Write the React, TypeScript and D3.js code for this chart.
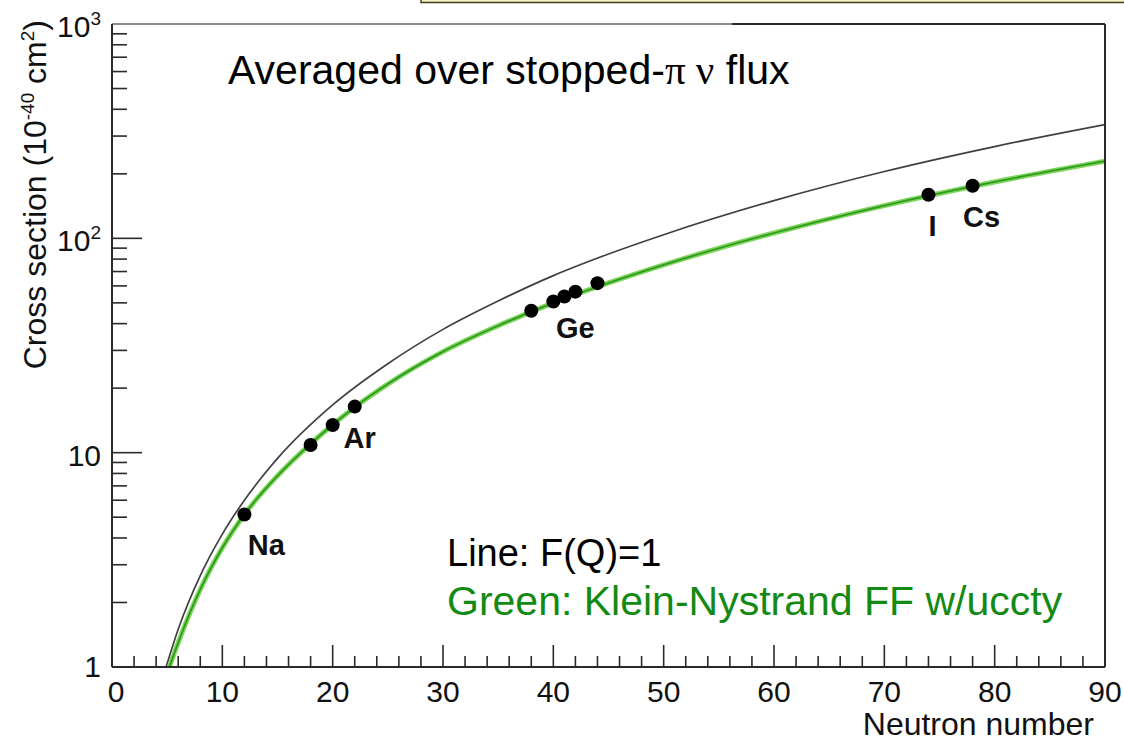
import React, { useEffect, useRef } from 'react';
import * as d3 from 'd3';

// F(Q)=1 curve
const lineN = [4.9, 6, 8, 10, 12, 15, 20, 25, 30, 35, 40, 45, 50, 60, 70, 80, 90];
const lineXS = [1.0, 1.5, 2.67, 4.17, 6.0, 9.4, 16.7, 26, 37.6, 51, 67, 84.5, 104, 150, 205, 268, 339];

// Klein-Nystrand form factor curve
const ffN = [5.2, 6, 8, 10, 12, 15, 18, 20, 22, 25, 30, 35, 40, 45, 50, 55, 60, 70, 80, 90];
const ffXS = [1.0, 1.3, 2.3, 3.6, 5.15, 7.8, 11.0, 13.5, 16.3, 20.9, 29.6, 39.1, 50, 61.9, 75.2, 89.9, 105.9, 142.2, 183.3, 229];

// isotopes
const isoN = [12, 18, 20, 22, 38, 40, 41, 42, 44, 74, 78];
const isoXS = [5.15, 10.85, 13.45, 16.4, 45.9, 50.7, 53.5, 56.4, 61.8, 159.6, 175.9];

// element labels, hung under one isotope each
const elements = ['Na', 'Ar', 'Ge', 'I', 'Cs'];
const elementN = [12, 22, 41, 74, 78];
const elementXS = [5.15, 16.4, 53.5, 159.6, 175.9];
const elementDx = [22, 5, 11, 4, 9];

const xTicks = [0, 10, 20, 30, 40, 50, 60, 70, 80, 90];
const yDecades = [1, 10, 100, 1000];
const yTickBase = ['1', '10', '10', '10'];
const yTickExp = ['', '', '2', '3'];

const FONT = '"Liberation Sans", Arial, Helvetica, sans-serif';
const SERIF = '"Liberation Serif", "Times New Roman", serif';

export default function App() {
  const svgRef = useRef<SVGSVGElement | null>(null);

  useEffect(() => {
    const width = 1124;
    const height = 741;
    const margin = { top: 24, right: 19, bottom: 74, left: 112 };
    const innerW = width - margin.left - margin.right;
    const innerH = height - margin.top - margin.bottom;

    const svg = d3.select(svgRef.current).attr('width', width).attr('height', height);
    svg.selectAll('*').remove();
    svg.append('rect').attr('width', width).attr('height', height).attr('fill', '#fff');

    // box cut off at the top of the slide
    svg.append('rect').attr('x', 421).attr('y', -10).attr('width', 720).attr('height', 12.5)
      .attr('fill', '#f4f1c4').attr('stroke', '#3f3f1c').attr('stroke-width', 1.5);

    const g = svg.append('g').attr('transform', `translate(${margin.left},${margin.top})`);

    const x = d3.scaleLinear().domain([0, 90]).range([0, innerW]);
    const y = d3.scaleLog().domain([1, 1000]).range([innerH, 0]);

    const defs = svg.append('defs');
    defs.append('clipPath').attr('id', 'plot-clip').append('rect')
      .attr('width', innerW).attr('height', innerH);

    const curves = g.append('g').attr('clip-path', 'url(#plot-clip)');
    const lineGen = d3.line<number>().x((d, i) => x(lineN[i])).y(d => y(d)).curve(d3.curveMonotoneX);
    const ffGen = d3.line<number>().x((d, i) => x(ffN[i])).y(d => y(d)).curve(d3.curveMonotoneX);

    curves.append('path').datum(lineXS).attr('d', lineGen).attr('fill', 'none')
      .attr('stroke', '#404040').attr('stroke-width', 1.7);
    // uncertainty band + central line
    curves.append('path').datum(ffXS).attr('d', ffGen).attr('fill', 'none')
      .attr('stroke', '#7fd65c').attr('stroke-width', 5);
    curves.append('path').datum(ffXS).attr('d', ffGen).attr('fill', 'none')
      .attr('stroke', '#2f9a1f').attr('stroke-width', 1.8);

    // frame
    g.append('line').attr('x1', 0).attr('x2', 620).attr('y1', 0).attr('y2', 0)
      .attr('stroke', '#8c8c8c').attr('stroke-width', 2);
    g.append('line').attr('x1', 620).attr('x2', innerW).attr('y1', 0).attr('y2', 0)
      .attr('stroke', '#2a2a2a').attr('stroke-width', 2);
    g.append('line').attr('x1', innerW).attr('x2', innerW).attr('y1', 0).attr('y2', innerH)
      .attr('stroke', '#2a2a2a').attr('stroke-width', 2);
    g.append('line').attr('x1', 0).attr('x2', 0).attr('y1', 0).attr('y2', innerH)
      .attr('stroke', '#2a2a2a').attr('stroke-width', 2);
    g.append('line').attr('x1', 0).attr('x2', innerW).attr('y1', innerH).attr('y2', innerH)
      .attr('stroke', '#2a2a2a').attr('stroke-width', 2);

    // x ticks
    const xMinor = d3.range(0, 90, 2);
    g.append('g').selectAll('line').data(xMinor).join('line')
      .attr('x1', d => x(d)).attr('x2', d => x(d))
      .attr('y1', innerH).attr('y2', d => innerH - (d % 10 === 0 ? 22 : 11))
      .attr('stroke', '#2a2a2a').attr('stroke-width', 1.6);
    g.append('g').selectAll('text').data(xTicks).join('text')
      .attr('x', d => x(d) + (d === 0 ? 4 : 0)).attr('y', innerH + 35).attr('text-anchor', 'middle')
      .attr('font-family', FONT).attr('font-size', 30).attr('fill', '#111')
      .text(d => d);

    // y ticks
    const yMinor: number[] = [];
    [1, 10, 100].forEach(dec => { for (let k = 2; k <= 9; k++) yMinor.push(dec * k); });
    g.append('g').selectAll('line').data(yMinor).join('line')
      .attr('x1', 0).attr('x2', 15).attr('y1', d => y(d)).attr('y2', d => y(d))
      .attr('stroke', '#2a2a2a').attr('stroke-width', 1.6);
    g.append('g').selectAll('line').data(yDecades.slice(1, 3)).join('line')
      .attr('x1', 0).attr('x2', 30).attr('y1', d => y(d)).attr('y2', d => y(d))
      .attr('stroke', '#2a2a2a').attr('stroke-width', 1.6);

    yDecades.forEach((d, i) => {
      const t = g.append('text').attr('x', -11).attr('y', y(d) + (i === 0 ? 10 : 13))
        .attr('text-anchor', 'end').attr('font-family', FONT).attr('font-size', 30).attr('fill', '#111');
      t.append('tspan').text(yTickBase[i]);
      if (yTickExp[i]) {
        t.append('tspan').attr('dy', -12).attr('font-size', 19).text(yTickExp[i]);
      }
    });

    // axis titles
    const yt = svg.append('text').attr('transform', 'translate(46,20) rotate(-90)')
      .attr('text-anchor', 'end').attr('font-family', FONT).attr('font-size', 32).attr('fill', '#111');
    yt.append('tspan').text('Cross section (10');
    yt.append('tspan').attr('dy', -12).attr('font-size', 19).text('-40');
    yt.append('tspan').attr('dy', 12).text(' cm');
    yt.append('tspan').attr('dy', -12).attr('font-size', 19).text('2');
    yt.append('tspan').attr('dy', 12).text(')');

    svg.append('text').attr('x', 1094).attr('y', 735).attr('text-anchor', 'end')
      .attr('font-family', FONT).attr('font-size', 32).attr('fill', '#111').text('Neutron number');

    // isotopes
    g.append('g').selectAll('circle').data(isoXS).join('circle')
      .attr('cx', (d, i) => x(isoN[i])).attr('cy', d => y(d)).attr('r', 7).attr('fill', '#000');

    g.append('g').selectAll('text').data(elements).join('text')
      .attr('x', (d, i) => x(elementN[i]) + elementDx[i]).attr('y', (d, i) => y(elementXS[i]) + 41)
      .attr('text-anchor', 'middle').attr('font-family', FONT).attr('font-size', 29)
      .attr('font-weight', 'bold').attr('fill', '#111').text(d => d);

    // annotations
    const ann = svg.append('text').attr('x', 228).attr('y', 84)
      .attr('font-family', FONT).attr('font-size', 41).attr('fill', '#000');
    ann.append('tspan').text('Averaged over stopped-');
    ann.append('tspan').attr('font-family', SERIF).text('\u03c0 \u03bd');
    ann.append('tspan').text(' flux');

    svg.append('text').attr('x', 447).attr('y', 566).attr('font-family', FONT)
      .attr('font-size', 38).attr('fill', '#000').text('Line: F(Q)=1');
    svg.append('text').attr('x', 447).attr('y', 615).attr('font-family', FONT)
      .attr('font-size', 41).attr('fill', '#138a13').text('Green: Klein-Nystrand FF w/uccty');
  }, []);

  return (
    <div style={{ position: 'absolute', left: 0, top: 0, width: 1124, height: 741 }}>
      <svg ref={svgRef} style={{ display: 'block' }} />
    </div>
  );
}
